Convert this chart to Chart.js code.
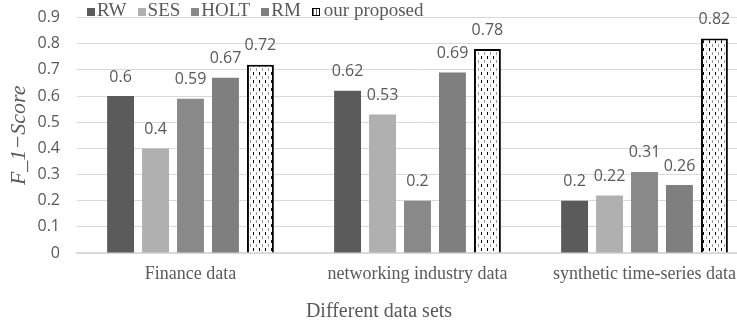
<!DOCTYPE html>
<html>
<head>
<meta charset="utf-8">
<script src="https://cdn.jsdelivr.net/npm/chart.js@4.4.1/dist/chart.umd.min.js"></script>
<style>
    html, body { margin: 0; padding: 0; background: #fff; overflow: hidden; }
    #wrap { position: relative; width: 737px; height: 325px; overflow: hidden; }
    #legend {
        position: absolute; left: 87px; top: 0px;
        display: flex; font: 19px 'Liberation Serif', serif; line-height: 20px; color: #595959;
        white-space: nowrap;
    }
    #legend .item { margin-right: 11px; }
    #legend .box { display: inline-block; width: 8px; height: 8px; margin-right: 2px; vertical-align: baseline; }
    #legend .box.hatch {
        width: 6px; height: 6px; border: 1.5px solid #000; background: #fff; margin-right: 4px;
        background-image: repeating-linear-gradient(90deg, #666 0 1px, transparent 1px 3px);
    }
</style>
</head>
<body>
<div id="wrap">
    <canvas id="chart" width="760" height="325"></canvas>
    <div id="legend"></div>
</div>
<script>
    const categories = ['Finance data', 'networking industry data', 'synthetic time-series data'];
    const seriesNames = ['RW', 'SES', 'HOLT', 'RM', 'our proposed'];
    const seriesColors = ['#5b5b5b', '#b0b0b0', '#898989', '#7f7f7f', null];
    const rwScores = [0.6, 0.62, 0.2];
    const sesScores = [0.4, 0.53, 0.22];
    const holtScores = [0.59, 0.2, 0.31];
    const rmScores = [0.67, 0.69, 0.26];
    const proposedScores = [0.72, 0.78, 0.82];
    const yTicks = [0, 0.1, 0.2, 0.3, 0.4, 0.5, 0.6, 0.7, 0.8, 0.9];

    const allScores = [rwScores, sesScores, holtScores, rmScores, proposedScores];
    const textGray = '#595959';

    // dotted fill for the proposed bars
    function makePattern() {
        const tile = document.createElement('canvas');
        tile.width = 6;
        tile.height = 8;
        const c = tile.getContext('2d');
        c.fillStyle = '#fff';
        c.fillRect(0, 0, 6, 8);
        c.fillStyle = '#000';
        c.fillRect(1, 0, 1, 3);
        c.fillStyle = '#999';
        c.fillRect(4, 4, 1, 3);
        return document.getElementById('chart').getContext('2d').createPattern(tile, 'repeat');
    }
    const proposedFill = makePattern();

    function buildLegend() {
        const legend = document.getElementById('legend');
        legend.innerHTML = '';
        seriesNames.forEach((name, i) => {
            const color = seriesColors[i];
            const box = color
                ? `<span class="box" style="background:${color}"></span>`
                : `<span class="box hatch"></span>`;
            legend.insertAdjacentHTML('beforeend', `<span class="item">${box}${name}</span>`);
        });
    }

    const valueLabels = {
        id: 'valueLabels',
        afterDatasetsDraw(chart) {
            const ctx = chart.ctx;
            ctx.save();
            ctx.font = "16px 'Open Sans'";
            ctx.fillStyle = textGray;
            ctx.textAlign = 'center';
            ctx.textBaseline = 'middle';
            chart.data.datasets.forEach((ds, i) => {
                chart.getDatasetMeta(i).data.forEach((bar, j) => {
                    ctx.fillText(String(ds.data[j]), bar.x, bar.y - 19);
                });
            });
            ctx.restore();
        }
    };

    const chart = new Chart(
        document.getElementById('chart'),
        {
            type: 'bar',
            data: {
                labels: categories,
                datasets: seriesNames.map((name, i) => ({
                    label: name,
                    data: allScores[i],
                    backgroundColor: seriesColors[i] || proposedFill,
                    borderColor: '#000',
                    borderWidth: seriesColors[i] ? 0 : 2,
                    categoryPercentage: 0.77,
                    barPercentage: 0.77
                }))
            },
            options: {
                responsive: false,
                animation: false,
                layout: {
                    padding: { top: 9, left: 0, right: 2, bottom: 0 }
                },
                scales: {
                    x: {
                        grid: { display: false, drawTicks: false },
                        border: { color: '#d9d9d9', width: 2 },
                        afterFit: scale => {
                            scale.height = 32;
                        },
                        ticks: {
                            padding: 10,
                            color: textGray,
                            font: { family: 'Liberation Serif', size: 18 }
                        }
                    },
                    y: {
                        min: 0,
                        max: 0.9,
                        afterBuildTicks: scale => {
                            scale.ticks = yTicks.map(v => ({ value: v }));
                        },
                        afterFit: scale => {
                            scale.width = 77;
                        },
                        grid: { color: '#d9d9d9', drawTicks: true, tickLength: 9, tickColor: 'rgba(0,0,0,0)' },
                        border: { display: false },
                        ticks: {
                            padding: 8,
                            color: textGray,
                            font: { family: 'Open Sans', size: 16 },
                            callback: v => String(Math.round(v * 10) / 10)
                        },
                        title: {
                            display: true,
                            text: 'F_1\u2212Score',
                            color: textGray,
                            padding: { top: 6, bottom: 0 },
                            font: { family: 'Liberation Serif', size: 22, style: 'italic' }
                        }
                    }
                },
                plugins: {
                    legend: { display: false },
                    tooltip: { enabled: false },
                    title: {
                        display: true,
                        position: 'bottom',
                        text: 'Different data sets',
                        color: textGray,
                        padding: { top: 15, bottom: 1 },
                        font: { family: 'Liberation Serif', size: 20, weight: 'normal' }
                    }
                }
            },
            plugins: [valueLabels]
        }
    );

    buildLegend();
</script>
</body>
</html>
